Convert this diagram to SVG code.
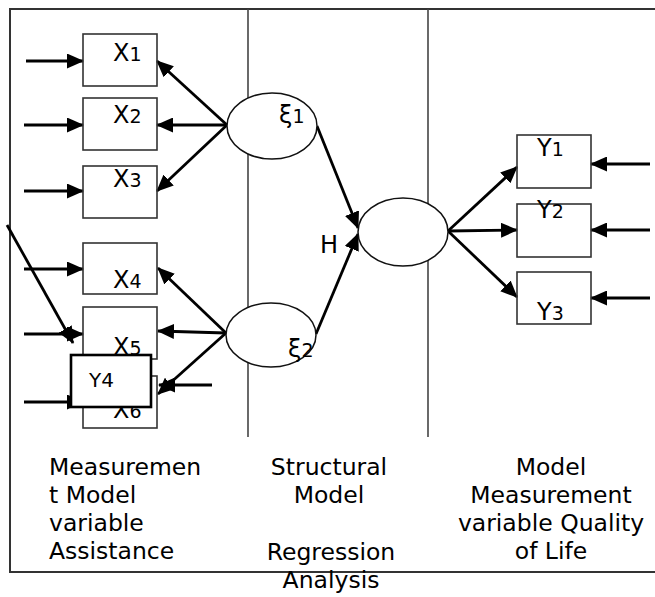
<svg xmlns="http://www.w3.org/2000/svg" width="655" height="597" viewBox="0 0 655 597">
<defs>
<marker id="ah" viewBox="0 0 17 15" refX="16" refY="7.5" markerWidth="17" markerHeight="15" orient="auto" markerUnits="userSpaceOnUse"><path d="M0,0 L17,7.5 L0,15 z" fill="#000"/></marker>
<style>
.frame{fill:none;stroke:#333;stroke-width:2}
.div{fill:none;stroke:#444;stroke-width:1.6}
.box{fill:none;stroke:#333;stroke-width:1.6}
.lat{fill:#fff;stroke:#111;stroke-width:1.5}
.arr{fill:none;stroke:#000;stroke-width:2.8;marker-end:url(#ah)}
.lbl{font-family:"DejaVu Sans",sans-serif;font-size:24px;fill:#000}
.sub{font-size:19px}
.cap{font-family:"DejaVu Sans",sans-serif;font-size:23.5px;fill:#000}
</style>
</defs>
<rect width="655" height="597" fill="#fff"/>
<g id="frame">
<path class="frame" d="M655,9 H10 V572 H655"/>
<line class="div" x1="248" y1="9" x2="248" y2="437"/>
<line class="div" x1="428" y1="9" x2="428" y2="437"/>
</g>
<g id="connectors">
<line class="arr" x1="26" y1="61" x2="83" y2="61"/>
<line class="arr" x1="24" y1="125" x2="83" y2="125"/>
<line class="arr" x1="24" y1="191" x2="83" y2="191"/>
<line class="arr" x1="24" y1="269" x2="83" y2="269"/>
<line class="arr" x1="24" y1="334" x2="83" y2="334"/>
<line class="arr" x1="24" y1="402" x2="83" y2="402"/>
<line class="arr" x1="7" y1="225" x2="73" y2="343"/>
<line class="arr" x1="227" y1="125" x2="157" y2="61"/>
<line class="arr" x1="227" y1="125" x2="157" y2="125"/>
<line class="arr" x1="227" y1="125" x2="157" y2="191"/>
<line class="arr" x1="226" y1="333" x2="158" y2="268"/>
<line class="arr" x1="226" y1="333" x2="158" y2="331"/>
<line class="arr" x1="226" y1="333" x2="158" y2="394"/>
<line class="arr" x1="212" y1="385" x2="159" y2="385"/>
<line class="arr" x1="317" y1="126" x2="358" y2="228"/>
<line class="arr" x1="316" y1="334" x2="358" y2="234"/>
<line class="arr" x1="448" y1="231" x2="517" y2="167"/>
<line class="arr" x1="448" y1="231" x2="517" y2="230"/>
<line class="arr" x1="448" y1="231" x2="517" y2="297"/>
<line class="arr" x1="650" y1="164" x2="591" y2="164"/>
<line class="arr" x1="650" y1="230" x2="591" y2="230"/>
<line class="arr" x1="650" y1="298" x2="591" y2="298"/>
</g>
<g id="X1"><rect class="box" x="83" y="34" width="74" height="52"/><text class="lbl" x="113" y="61">X<tspan class="sub">1</tspan></text></g>
<g id="X2"><rect class="box" x="83" y="98" width="74" height="52"/><text class="lbl" x="113" y="123">X<tspan class="sub">2</tspan></text></g>
<g id="X3"><rect class="box" x="83" y="166" width="74" height="52"/><text class="lbl" x="113" y="187">X<tspan class="sub">3</tspan></text></g>
<g id="X4"><rect class="box" x="83" y="243" width="74" height="51"/><text class="lbl" x="113" y="288">X<tspan class="sub">4</tspan></text></g>
<g id="X5"><rect class="box" x="83" y="307" width="74" height="52"/><text class="lbl" x="113" y="355">X<tspan class="sub">5</tspan></text></g>
<g id="X6"><rect class="box" x="83" y="376" width="74" height="52"/><text class="lbl" x="113" y="418">X<tspan class="sub">6</tspan></text></g>
<g id="xi1"><ellipse class="lat" cx="272" cy="126" rx="45" ry="33"/><text class="lbl" x="279" y="123">ξ<tspan class="sub">1</tspan></text></g>
<g id="xi2"><ellipse class="lat" cx="271" cy="335" rx="45" ry="32"/><text class="lbl" x="288" y="357">ξ<tspan class="sub">2</tspan></text></g>
<g id="H"><ellipse class="lat" cx="403" cy="232" rx="45" ry="34"/><text class="lbl" x="320" y="253">H</text></g>
<g id="Y1"><rect class="box" x="517" y="135" width="74" height="53"/><text class="lbl" x="537" y="156">Y<tspan class="sub">1</tspan></text></g>
<g id="Y2"><rect class="box" x="517" y="204" width="74" height="53"/><text class="lbl" x="537" y="218">Y<tspan class="sub">2</tspan></text></g>
<g id="Y3"><rect class="box" x="517" y="272" width="74" height="52"/><text class="lbl" x="537" y="320">Y<tspan class="sub">3</tspan></text></g>
<g id="Y4"><rect x="71" y="355" width="80" height="52" fill="#fff" stroke="#000" stroke-width="2.6"/><text x="89" y="387" font-family="DejaVu Sans, sans-serif" font-size="20" fill="#000">Y4</text></g>
<g id="captions">
<text class="cap" x="49" y="475">Measuremen</text>
<text class="cap" x="49" y="503">t Model</text>
<text class="cap" x="49" y="531">variable</text>
<text class="cap" x="49" y="559">Assistance</text>
<text class="cap" x="329" y="475" text-anchor="middle">Structural</text>
<text class="cap" x="329" y="503" text-anchor="middle">Model</text>
<text class="cap" x="331" y="560" text-anchor="middle">Regression</text>
<text class="cap" x="331" y="588" text-anchor="middle">Analysis</text>
<text class="cap" x="551" y="475" text-anchor="middle">Model</text>
<text class="cap" x="551" y="503" text-anchor="middle">Measurement</text>
<text class="cap" x="551" y="531" text-anchor="middle">variable Quality</text>
<text class="cap" x="551" y="559" text-anchor="middle">of Life</text>
</g>
</svg>
